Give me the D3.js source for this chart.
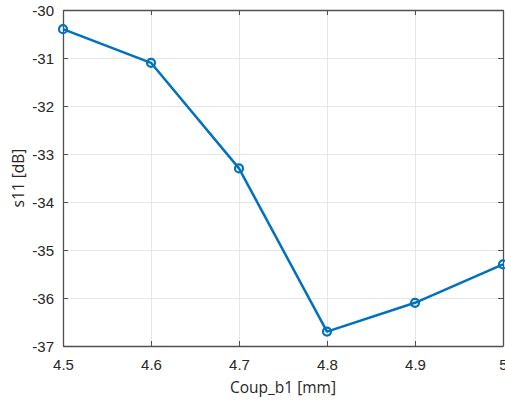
<!DOCTYPE html>
<html>
<head>
<meta charset="utf-8">
<script src="https://cdn.jsdelivr.net/npm/d3@7"></script>
<style>
  html, body { margin: 0; padding: 0; background: #fff; }
  svg { display: block; }
</style>
</head>
<body>
<svg id="chart" width="505" height="405"></svg>
<script>
// Return loss versus coupling width
const coupB1 = [4.5, 4.6, 4.7, 4.8, 4.9, 5.0];
const s11 = [-30.4, -31.1, -33.3, -36.7, -36.1, -35.3];
const xTicks = [4.5, 4.6, 4.7, 4.8, 4.9, 5.0];
const xTickLabels = ["4.5", "4.6", "4.7", "4.8", "4.9", "5"];
const yTicks = [-37, -36, -35, -34, -33, -32, -31, -30];
const yTickLabels = ["-37", "-36", "-35", "-34", "-33", "-32", "-31", "-30"];

const svg = d3.select("#chart");
const plotLeft = 63, plotRight = 503, plotTop = 10, plotBottom = 346;

const x = d3.scaleLinear().domain([4.5, 5.0]).range([plotLeft, plotRight]);
const y = d3.scaleLinear().domain([-37, -30]).range([plotBottom, plotTop]);

const axisColor = "#4f4f4f";
const gridColor = "#e6e6e6";
const tickFont = "'Liberation Sans', Arial, sans-serif";
const labelFont = "'Open Sans', 'Noto Sans', sans-serif";

// grid
const grid = svg.append("g");
grid.selectAll("line.gx").data(xTicks.slice(1, -1)).join("line")
  .attr("x1", d => Math.round(x(d)) + 0.5).attr("x2", d => Math.round(x(d)) + 0.5)
  .attr("y1", plotTop).attr("y2", plotBottom)
  .attr("stroke", gridColor).attr("stroke-width", 1);
grid.selectAll("line.gy").data(yTicks.slice(1, -1)).join("line")
  .attr("y1", d => Math.round(y(d)) + 0.5).attr("y2", d => Math.round(y(d)) + 0.5)
  .attr("x1", plotLeft).attr("x2", plotRight)
  .attr("stroke", gridColor).attr("stroke-width", 1);

// axes with inward ticks on all four sides
const tickLen = 5;
const bottomAxis = svg.append("g").attr("transform", `translate(0,${plotBottom})`)
  .call(d3.axisBottom(x).tickValues(xTicks).tickSizeInner(-tickLen).tickSizeOuter(0)
    .tickPadding(13).tickFormat((d, i) => xTickLabels[i]));
const leftAxis = svg.append("g").attr("transform", `translate(${plotLeft},0)`)
  .call(d3.axisLeft(y).tickValues(yTicks).tickSizeInner(-tickLen).tickSizeOuter(0)
    .tickPadding(9).tickFormat((d, i) => yTickLabels[i]));
const topAxis = svg.append("g").attr("transform", `translate(0,${plotTop})`)
  .call(d3.axisTop(x).tickValues(xTicks).tickSizeInner(-tickLen).tickSizeOuter(0)
    .tickFormat(""));
const rightAxis = svg.append("g").attr("transform", `translate(${plotRight},0)`)
  .call(d3.axisRight(y).tickValues(yTicks).tickSizeInner(-tickLen).tickSizeOuter(0)
    .tickFormat(""));

[bottomAxis, leftAxis, topAxis, rightAxis].forEach(g => {
  g.select(".domain").attr("stroke", axisColor).attr("stroke-width", 1.3);
  g.selectAll(".tick line").attr("stroke", axisColor).attr("stroke-width", 1);
  g.selectAll(".tick text").attr("fill", "#262626")
    .style("font-family", tickFont).style("font-size", "15px");
});
leftAxis.selectAll(".tick text").attr("dy", "0.35em");

// data line and markers
const lineColor = "#0072BD";
const line = d3.line().x((d, i) => x(coupB1[i])).y(d => y(d));
svg.append("path").datum(s11)
  .attr("d", line)
  .attr("fill", "none").attr("stroke", lineColor).attr("stroke-width", 2.5)
  .attr("stroke-linejoin", "round");
svg.selectAll("circle.pt").data(s11).join("circle")
  .attr("cx", (d, i) => x(coupB1[i])).attr("cy", d => y(d))
  .attr("r", 4)
  .attr("fill", "none").attr("stroke", lineColor).attr("stroke-width", 2.2);

// axis titles
svg.append("text")
  .attr("x", (plotLeft + plotRight) / 2).attr("y", 393)
  .attr("text-anchor", "middle")
  .style("font-family", labelFont).style("font-size", "15.5px").attr("fill", "#262626")
  .text("Coup_b1 [mm]");
svg.append("text")
  .attr("transform", `translate(24,${(plotTop + plotBottom) / 2}) rotate(-90)`)
  .attr("text-anchor", "middle")
  .style("font-family", labelFont).style("font-size", "15.5px").attr("fill", "#262626")
  .text("s11 [dB]");
</script>
</body>
</html>
